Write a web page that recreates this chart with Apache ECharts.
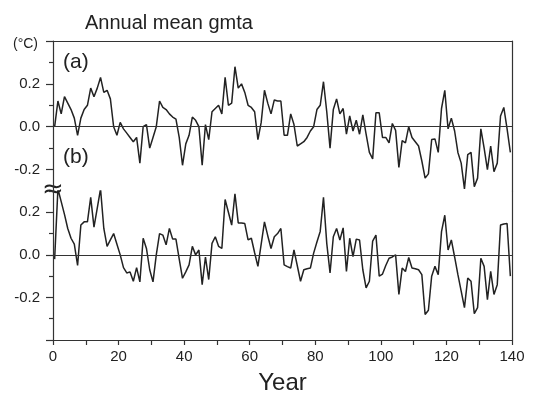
<!DOCTYPE html>
<html>
<head>
<meta charset="utf-8">
<script src="https://cdn.jsdelivr.net/npm/echarts@6/dist/echarts.min.js"></script>
<style>
  html, body { margin: 0; padding: 0; background: #fff; }
  #chart { width: 535px; height: 396px; }
</style>
</head>
<body>
<div id="chart"></div>
<script>
// annual mean gmta, panel (a) and panel (b), one value per year
var gmtaA = [
  0.00, 0.12, 0.06, 0.14, 0.11, 0.08, 0.04, -0.04, 0.04, 0.08,
  0.10, 0.18, 0.14, 0.18, 0.23, 0.16, 0.17, 0.13, 0.00, -0.04,
  0.02, -0.01, -0.03, -0.05, -0.07, -0.05, -0.17, 0.00, 0.01, -0.10,
  -0.05, 0.00, 0.12, 0.09, 0.08, 0.06, 0.045, 0.035, -0.05, -0.18,
  -0.08, -0.04, 0.045, 0.03, 0.00, -0.18, 0.01, -0.06, 0.07, 0.085,
  0.10, 0.06, 0.23, 0.10, 0.11, 0.28, 0.18, 0.20, 0.16, 0.10,
  0.09, 0.07, -0.06, 0.02, 0.17, 0.11, 0.06, 0.125, 0.12, 0.12,
  -0.04, -0.04, 0.06, 0.01, -0.09, -0.08, -0.07, -0.05, -0.02, 0.00,
  0.08, 0.10, 0.21, 0.07, -0.10, 0.08, 0.13, 0.06, 0.085, -0.035,
  0.05, -0.02, 0.03, -0.035, 0.055, -0.035, -0.12, -0.15, 0.065, 0.065,
  -0.05, -0.05, -0.075, 0.015, -0.017, -0.19, -0.065, -0.075, 0.00, -0.05,
  -0.07, -0.09, -0.16, -0.24, -0.22, -0.06, -0.057, -0.12, 0.085, 0.17,
  -0.01, 0.04, -0.02, -0.12, -0.17, -0.29, -0.13, -0.12, -0.28, -0.24,
  -0.01, -0.10, -0.20, -0.09, -0.21, -0.17, 0.05, 0.09, -0.01, -0.12
];
var gmtaB = [
  -0.02, 0.31, 0.25, 0.19, 0.124, 0.078, 0.05, -0.05, 0.14, 0.155,
  0.155, 0.27, 0.13, 0.22, 0.31, 0.124, 0.04, 0.07, 0.10, 0.05,
  0.00, -0.06, -0.085, -0.08, -0.124, -0.06, -0.127, 0.078, 0.03, -0.07,
  -0.127, 0.00, 0.10, 0.093, 0.047, 0.124, 0.074, 0.074, -0.02, -0.11,
  -0.08, -0.047, 0.04, 0.00, 0.023, -0.14, -0.01, -0.116, 0.054, 0.085,
  0.04, 0.03, 0.26, 0.20, 0.14, 0.287, 0.15, 0.15, 0.147, 0.07,
  0.078, 0.01, -0.054, 0.05, 0.155, 0.09, 0.03, 0.085, 0.10, 0.124,
  -0.047, -0.055, -0.062, 0.023, -0.05, -0.124, -0.07, -0.065, -0.062, 0.008,
  0.06, 0.11, 0.27, 0.054, -0.085, 0.085, 0.124, 0.07, 0.127, -0.078,
  0.078, -0.008, 0.074, 0.07, -0.07, -0.155, -0.124, 0.065, 0.093, -0.10,
  -0.09, -0.05, -0.016, -0.01, 0.00, -0.186, -0.062, -0.078, -0.012, -0.062,
  -0.065, -0.07, -0.093, -0.28, -0.26, -0.10, -0.054, -0.093, 0.109, 0.186,
  0.023, 0.07, -0.01, -0.093, -0.17, -0.248, -0.109, -0.124, -0.276, -0.248,
  -0.016, -0.054, -0.21, -0.078, -0.186, -0.14, 0.14, 0.145, 0.147, -0.10
];

// tick labels / tick positions
var xLabels = [0, 20, 40, 60, 80, 100, 120, 140];
var yLabels = [-0.2, 0, 0.2];
var yMajorA = [-0.2, 0, 0.2, 0.4];
var yMinorA = [-0.3, -0.1, 0.1, 0.3];
var yMajorB = [-0.4, -0.2, 0, 0.2];
var yMinorB = [-0.3, -0.1, 0.1];

var years = gmtaA.map(function (v, i) { return i + 0.5; });
function pairs(vals) {
  return vals.map(function (v, i) { return [years[i], v]; });
}

var FONT = 'Liberation Sans';
var INK = '#222';
var frame = { show: true, onZero: false, lineStyle: { color: '#333', width: 1.2 } };

function inList(list, v) {
  return list.some(function (t) { return Math.abs(t - v) < 1e-6; });
}

function leftMajor(grid, min, max, ticks) {
  return {
    gridIndex: grid, type: 'value', position: 'left', min: min, max: max, interval: 0.1,
    axisLine: frame,
    axisTick: { show: true, length: 7, customValues: ticks, lineStyle: { color: '#333', width: 1.2 } },
    axisLabel: {
      show: true, customValues: yLabels, margin: 13, color: INK, fontSize: 15, fontFamily: FONT,
      formatter: function (v) {
        if (!inList(yLabels, v)) return '';
        return Math.abs(v) < 1e-6 ? '0.0' : v.toFixed(1);
      }
    },
    splitLine: { show: false }
  };
}
function leftMinor(grid, min, max, ticks) {
  return {
    gridIndex: grid, type: 'value', position: 'left', min: min, max: max, interval: 0.1,
    axisLine: { show: false },
    axisTick: { show: true, length: 4, customValues: ticks, lineStyle: { color: '#333', width: 1.2 } },
    axisLabel: { show: false },
    splitLine: { show: false }
  };
}
function rightEdge(grid, min, max) {
  return {
    gridIndex: grid, type: 'value', position: 'right', min: min, max: max,
    axisLine: frame, axisTick: { show: false }, axisLabel: { show: false }, splitLine: { show: false }
  };
}

var zeroLine = {
  silent: true, symbol: 'none', label: { show: false },
  lineStyle: { color: '#333', width: 1.2, type: 'solid' },
  data: [{ yAxis: 0 }]
};

var option = {
  animation: false,
  backgroundColor: '#fff',
  title: {
    text: 'Annual mean gmta', left: 80, top: 8,
    textStyle: { fontFamily: FONT, fontSize: 20, fontWeight: 'normal', color: INK }
  },
  grid: [
    { left: 53, right: 23, top: 41, height: 150 },
    { left: 53, right: 23, top: 191, height: 150 }
  ],
  xAxis: [
    {
      gridIndex: 0, type: 'value', position: 'top', min: 0, max: 140,
      axisLine: frame, axisTick: { show: false }, axisLabel: { show: false }, splitLine: { show: false }
    },
    {
      gridIndex: 1, type: 'value', position: 'bottom', min: 0, max: 140, interval: 10,
      axisLine: frame,
      axisTick: { show: true, length: 5, lineStyle: { color: '#333', width: 1.2 } },
      axisLabel: {
        margin: 9, color: INK, fontSize: 15, fontFamily: FONT,
        formatter: function (v) { return inList(xLabels, v) ? String(v) : ''; }
      },
      splitLine: { show: false },
      name: 'Year', nameLocation: 'middle', nameGap: 31,
      nameTextStyle: { fontFamily: FONT, fontSize: 24, color: INK, verticalAlign: 'top' }
    }
  ],
  yAxis: [
    leftMajor(0, -0.3, 0.4, yMajorA),
    leftMinor(0, -0.3, 0.4, yMinorA),
    rightEdge(0, -0.3, 0.4),
    leftMajor(1, -0.4, 0.3, yMajorB),
    leftMinor(1, -0.4, 0.3, yMinorB),
    rightEdge(1, -0.4, 0.3)
  ],
  series: [
    {
      name: '(a)', type: 'line', xAxisIndex: 0, yAxisIndex: 0,
      data: pairs(gmtaA), showSymbol: false, smooth: false,
      lineStyle: { color: INK, width: 1.5 },
      markLine: zeroLine
    },
    {
      name: '(b)', type: 'line', xAxisIndex: 1, yAxisIndex: 3,
      data: pairs(gmtaB), showSymbol: false, smooth: false,
      lineStyle: { color: INK, width: 1.5 },
      markLine: zeroLine
    }
  ],
  graphic: [
    { type: 'text', left: 13, top: 37, style: { text: '(°C)', font: '14px ' + FONT, fill: INK } },
    { type: 'text', left: 63, top: 52, style: { text: '(a)', font: '21px ' + FONT, fill: INK } },
    { type: 'text', left: 63, top: 147, style: { text: '(b)', font: '21px ' + FONT, fill: INK } },
    {
      type: 'text', x: 53, y: 190,
      style: { text: '≈', font: '26px DejaVu Sans', fill: INK, align: 'center', verticalAlign: 'middle' }
    }
  ]
};

var chart = echarts.init(document.getElementById('chart'));
chart.setOption(option);
</script>
</body>
</html>
